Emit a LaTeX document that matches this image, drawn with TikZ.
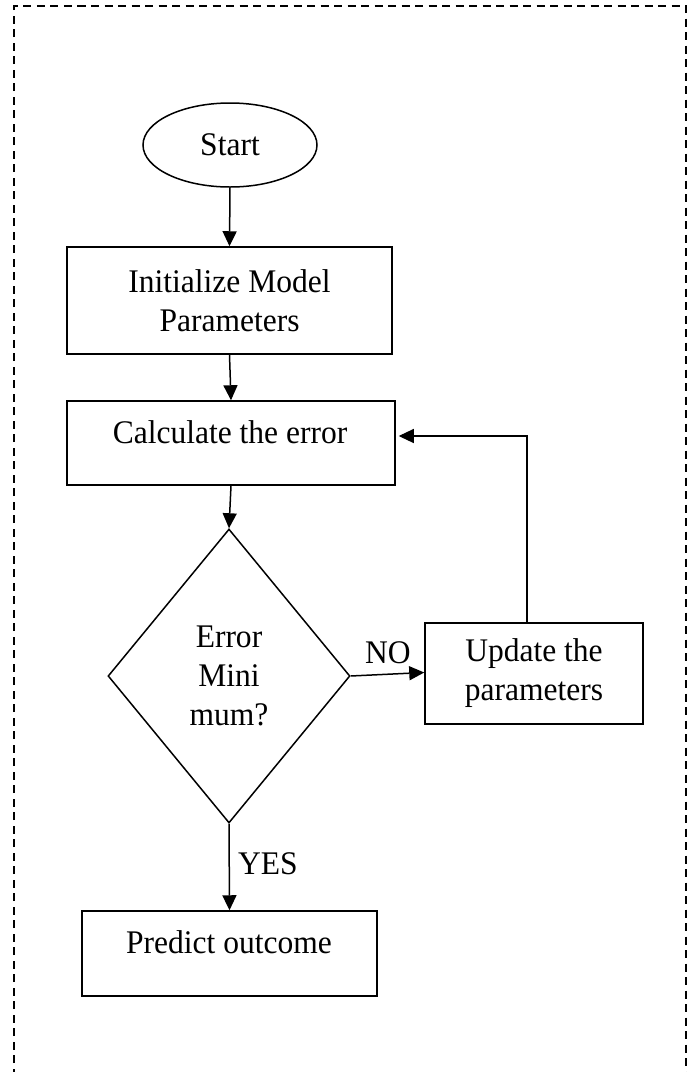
\documentclass[tikz,border=0pt]{standalone}
\usepackage{fontspec}
\setmainfont{Liberation Serif}[FakeStretch=0.955]
\usetikzlibrary{arrows.meta,shapes.geometric}

\tikzset{
  frameline/.style={line width=1.9pt, dash pattern=on 8pt off 5.5pt},
  boxstep/.style={draw, line width=1.5pt, rectangle, inner sep=0pt},
  termnode/.style={draw, line width=1.5pt, ellipse, inner sep=0pt,
    minimum width=174pt, minimum height=84pt},
  decnode/.style={draw, line width=1.5pt, diamond, inner sep=0pt, align=center,
    minimum width=242pt, minimum height=294pt},
  txt/.style={align=center, inner sep=0pt},
  flow/.style={line width=1.5pt, -{Triangle[length=15pt,width=14pt]}},
  backflow/.style={line width=1.1pt, -{Triangle[length=15pt,width=14pt]}},
}

\begin{document}
\begin{tikzpicture}[x=1pt, y=-1pt, font=\fontsize{33}{39}\selectfont]
  \useasboundingbox (0,0) rectangle (692,1072);
  \clip (0,0) rectangle (692,1072);

  % dashed frame around the chart (open at the bottom edge)
  \draw[frameline] (14,1090) -- (14,6) -- (686,6) -- (686,1090);

  % nodes
  \node[termnode] (start) at (230,145) {Start};
  \node[boxstep, minimum width=325pt, minimum height=107pt, txt] (init) at (229.5,300.5)
    {Initialize Model\\Parameters};
  \node[boxstep, minimum width=328pt, minimum height=84pt] (calc) at (231,443) {};
  \node[txt] (calctxt) at (230,432) {Calculate the error};
  \node[decnode] (dec) at (229,676) {Error\\Mini\\mum?};
  \node[boxstep, minimum width=218pt, minimum height=101pt, txt] (upd) at (534,673.5)
    {Update the\\parameters};
  \node[boxstep, minimum width=295pt, minimum height=85pt] (pred) at (229.5,953.5) {};
  \node[txt] (predtxt) at (229,942) {Predict outcome};

  % branch labels
  \node[txt] (nolbl) at (388,653) {NO};
  \node[txt] (yeslbl) at (268,864) {YES};

  % connectors
  \draw[flow] (start.south) -- (init.north);
  \draw[flow] (init.south) -- (calc.north);
  \draw[flow] (calc.south) -- (dec.north);
  \draw[flow] (dec.east) -- ([yshift=1pt]upd.west);
  \draw[flow] (dec.south) -- (pred.north);
  \draw[backflow] ([xshift=-7pt]upd.north) |- ([xshift=3pt,yshift=7pt]calc.east);
\end{tikzpicture}
\end{document}
